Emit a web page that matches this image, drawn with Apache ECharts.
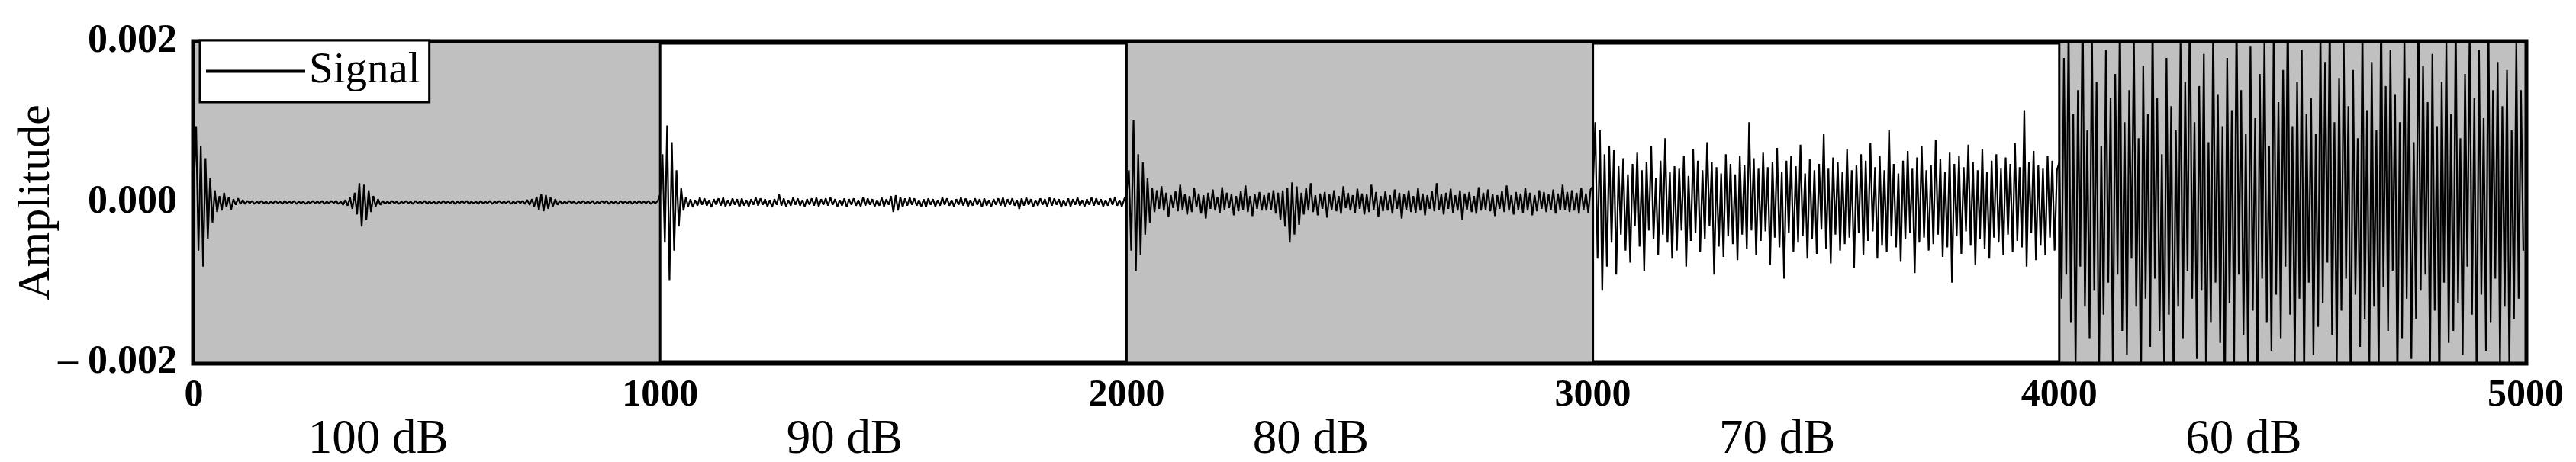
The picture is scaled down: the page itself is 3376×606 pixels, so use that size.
<!DOCTYPE html>
<html>
<head>
<meta charset="utf-8">
<script src="https://cdn.jsdelivr.net/npm/echarts@6/dist/echarts.min.js"></script>
<style>
  html, body { margin: 0; padding: 0; background: #fff; }
  #chart { width: 3376px; height: 606px; }
</style>
</head>
<body>
<div id="chart"></div>
<script>
// amplitude samples, units of 1e-5, every 5 samples inside each 1000-sample block
const seg100 = [
  20, 95, -60, 70, -80, 55, -45, 30, -25, 15, -12, 8,
  -10, 12, -6, 7, -9, 4, -3, 5, -2, 3, -2, 2,
  -1, 2, -2, 1, -1, 2, -1, 1, -2, 1, -1, 2,
  -1, 1, -2, 2, -1, 1, -1, 2, -2, 1, -1, 1,
  -2, 1, -1, 2, -1, 1, -1, 2, -2, 1, -1, 2,
  -1, 2, -2, 1, -3, 3, -4, 6,
  -8, 12, -15, 24, -30, 22, -22, 15, -12, 8, -5, 4,
  -3, 2, -2, 1, -1, 2, -1, 1, -2, 1, -1, 2,
  -1, 1, -2, 2, -1, 1, -1, 2, -2, 1, -1, 1,
  -2, 1, -1, 2, -1, 1, -1, 2, -2, 1, -1, 2,
  -1, 2, -2, 1, -1, 1, -2, 2, -1, 1, -1, 2,
  -2, 1, -1, 2, -1, 1, -1, 2, -2, 1, -1, 2,
  -1, 2, -2, 3, -3, 4, -5, 7, -9, 10, -11, 9,
  -8, 6, -5, 4, -3, 2, -2, 1, -1, 2, -1, 1,
  -2, 1, -1, 2, -1, 1, -1, 2, -2, 1, -1, 2,
  -1, 2, -2, 1, -1, 1, -2, 2, -1, 1, -1, 2,
  -2, 1, -1, 2, -1, 1, -1, 2, -2, 1, -1, 2
];
const seg90 = [
  10, 60, -50, 96, -97, 75, -60, 40, -30, 18, -10, 6,
  -5, 4, -6, 3, -4, 6, -3, 5, -4, 3, -6, 4,
  -3, 5, -4, 6, -5, 3, -4, 5, -3, 4, -6, 5,
  -4, 3, -5, 4, -3, 6, -4, 5, -3, 4, -5, 3,
  -6, 4, -3, 10, -4, 5, -5, 3, -4, 6, -3, 5,
  -4, 3, -5, 4, -3, 5, -4, 6, -5, 4, -3, 5,
  -4, 6, -3, 4, -5, 3, -4, 5, -6, 4, -3, 5,
  -4, 3, -5, 6, -4, 5, -3, 4, -5, 3, -4, 6,
  -5, 4, -3, 8, -12, 9, -10, 7, -6, 5, -4, 6,
  -3, 5, -4, 3, -5, 4, -6, 5, -3, 4, -5, 3,
  -4, 6, -3, 5, -4, 3, -5, 4, -3, 6, -4, 5,
  -5, 3, -4, 5, -3, 4, -6, 5, -4, 3, -5, 4,
  -3, 5, -4, 6, -5, 4, -3, 5, -4, 3, -8, 5,
  -4, 6, -3, 4, -5, 3, -4, 5, -3, 4, -5, 6,
  -4, 5, -3, 4, -6, 3, -4, 5, -5, 4, -3, 6,
  -4, 3, -5, 4, -3, 6, -4, 5, -3, 4, -5, 3,
  -4, 5, -3, 6, -4, 3, -5, 4
];
const seg80 = [
  10, 40, -60, 103, -86, 60, -65, 50, -40, 30, -25, 18,
  -12, 15, -8, 20, -10, 12, -18, 9, -7, 14, -11, 22,
  -9, 10, -15, 8, -12, 18, -6, 11, -14, 9, -20, 12,
  -8, 16, -10, 7, -13, 19, -9, 12, -7, 10, -16, 8,
  -11, 14, -9, 21, -12, 8, -17, 10, -8, 13, -10, 9,
  -10, 12, -9, 15, -14, 12, -22, 15, -30, 18, -50, 25,
  -40, 20, -28, 12, -15, 18, -10, 24, -12, 9, -16, 11,
  -8, 13, -19, 10, -9, 15, -11, 8, -14, 20, -7, 12,
  -10, 9, -13, 17, -8, 11, -15, 10, -12, 22, -9, 13,
  -18, 8, -11, 14, -10, 9, -14, 16, -8, 12, -20, 10,
  -9, 15, -12, 8, -13, 18, -10, 11, -16, 9, -8, 14,
  -11, 24, -9, 10, -15, 12, -8, 17, -13, 9, -10, 15,
  -22, 11, -9, 13, -12, 8, -14, 19, -10, 12, -9, 16,
  -11, 10, -17, 9, -8, 14, -12, 21, -10, 9, -15, 13,
  -9, 11, -13, 18, -10, 12, -16, 9, -11, 15, -8, 13,
  -12, 10, -9, 16, -14, 11, -10, 22, -9, 13, -12, 15,
  -10, 12, -14, 18, -9, 11, -13, 16
];
const seg70 = [
  20, 100, -70, 90, -110, 60, -80, 70, -50, 65, -90, 45,
  -40, 55, -60, 35, -75, 48, -30, 62, -55, 40, -85, 50,
  -35, 70, -45, 30, -65, 52, -40, 80, -50, 38, -70, 45,
  -60, 42, -35, 58, -80, 33, -48, 66, -38, 52, -62, 40,
  -45, 75, -30, 50, -90, 44, -55, 36, -68, 60, -42, 48,
  -52, 35, -72, 58, -40, 46, -58, 100, -35, 55, -65, 42,
  -48, 62, -36, 44, -78, 50, -44, 68, -56, 38, -95, 52,
  -38, 58, -62, 45, -50, 72, -42, 36, -70, 54, -46, 40,
  -64, 48, -34, 85, -58, 42, -76, 56, -40, 50, -60, 38,
  -52, 66, -44, 40, -82, 46, -38, 60, -66, 52, -48, 74,
  -36, 44, -70, 58, -54, 40, -62, 90, -42, 48, -56, 36,
  -74, 52, -46, 64, -38, 42, -88, 56, -50, 70, -44, 40,
  -60, 46, -52, 78, -40, 54, -68, 38, -56, 62, -100, 48,
  -42, 58, -64, 44, -36, 72, -54, 50, -78, 40, -46, 66,
  -58, 38, -70, 52, -44, 60, -50, 42, -66, 56, -40, 48,
  -62, 74, -48, 44, -56, 115, -80, 50, -38, 64, -72, 46,
  -54, 42, -66, 58, -44, 52, -60, 40
];
const seg60 = [
  50, -120, 180, -90, 230, -150, 110, -210, 140, -80, 260, -130,
  90, -170, 220, -110, 150, -240, 70, -140, 190, -100, 130, -220,
  160, -90, 250, -160, 100, -190, 140, -70, 210, -130, 80, -250,
  170, -120, 110, -180, 240, -95, 130, -160, 60, -210, 180, -140,
  120, -230, 90, -130, 200, -170, 150, -85, 270, -120, 100, -195,
  145, -110, 185, -240, 75, -150, 225, -100, 135, -175, 95, -260,
  180, -125, 115, -200, 250, -90, 140, -165, 85, -215, 195, -135,
  105, -245, 160, -95, 210, -150, 70, -185, 235, -115, 125, -170,
  165, -80, 255, -140, 95, -205, 150, -120, 190, -230, 110, -100,
  130, -190, 85, -155, 220, -125, 175, -75, 240, -165, 100, -210,
  155, -135, 200, -95, 120, -250, 165, -115, 80, -180, 230, -145,
  115, -200, 175, -130, 90, -225, 260, -105, 145, -160, 190, -85,
  135, -240, 100, -170, 215, -120, 155, -195, 75, -145, 245, -110,
  170, -90, 125, -215, 185, -135, 95, -255, 150, -100, 205, -175,
  110, -160, 235, -125, 80, -190, 160, -80, 220, -140, 130, -230,
  190, -115, 105, -185, 250, -150, 140, -95, 175, -205, 120, -130,
  165, -210, 90, -145, 200, -120, 140, -60
];

const segStarts = [0, 1000, 2000, 3000, 4000];
const bandLabels = ['100 dB', '90 dB', '80 dB', '70 dB', '60 dB'];
const shadedBands = [[0, 1000], [2000, 3000], [4000, 5000]];
const yTickValues = [-0.002, 0, 0.002];
const yTickLabels = ['\u2013 0.002', '0.000', '0.002'];

const font = 'Liberation Serif';
const segments = [seg100, seg90, seg80, seg70, seg60];

let signal = [];
segments.forEach((seg, k) => {
    const step = 1000 / seg.length;
    seg.forEach((v, i) => {
        signal.push([segStarts[k] + i * step, v * 1e-5]);
    });
});

const chart = echarts.init(document.getElementById('chart'));
chart.setOption({
    animation: false,
    grid: {
        left: 254,
        right: 66,
        top: 55,
        bottom: 130,
        outerBoundsMode: 'none',
        show: true,
        borderColor: '#000',
        borderWidth: 7,
        backgroundColor: 'transparent'
    },
    legend: {
        left: 262,
        top: 53,
        padding: [12, 12, 12, 8],
        backgroundColor: '#fff',
        borderColor: '#000',
        borderWidth: 3,
        borderRadius: 0,
        itemWidth: 130,
        itemHeight: 4,
        textStyle: { fontFamily: font, fontSize: 57, color: '#000' },
        data: [{ name: 'Signal', icon: 'rect', itemStyle: { color: '#000' } }]
    },
    xAxis: [
        {
            type: 'value',
            min: 0,
            max: 5000,
            interval: 1000,
            axisLine: { show: false },
            axisTick: { show: false },
            splitLine: { show: false },
            axisLabel: {
                fontFamily: font,
                fontSize: 50,
                fontWeight: 'bold',
                color: '#000',
                margin: 18,
                formatter: v => String(v)
            }
        },
        {
            type: 'category',
            data: bandLabels,
            position: 'bottom',
            axisLine: { show: false },
            axisTick: { show: false },
            splitLine: { show: false },
            axisLabel: {
                fontFamily: font,
                fontSize: 63,
                color: '#000',
                margin: 70,
                padding: [0, 128, 0, 0]
            }
        }
    ],
    yAxis: {
        type: 'value',
        min: -0.002,
        max: 0.002,
        interval: 0.001,
        name: 'Amplitude',
        nameLocation: 'middle',
        nameRotate: 90,
        nameGap: 176,
        nameMoveOverlap: false,
        nameTextStyle: { fontFamily: font, fontSize: 60, color: '#000' },
        axisLine: { show: false },
        axisTick: {
            show: true,
            inside: true,
            length: 12,
            lineStyle: { color: '#000', width: 3 }
        },
        splitLine: { show: false },
        axisLabel: {
            fontFamily: font,
            fontSize: 52,
            fontWeight: 'bold',
            color: '#000',
            margin: 22,
            formatter: function (v) {
                const i = yTickValues.findIndex(t => Math.abs(t - v) < 1e-9);
                return i >= 0 ? yTickLabels[i] : '';
            }
        }
    },
    series: [
        {
            name: 'Signal',
            type: 'line',
            xAxisIndex: 0,
            symbol: 'none',
            sampling: null,
            clip: true,
            lineStyle: { color: '#000', width: 2.2 },
            itemStyle: { color: '#000' },
            data: signal,
            markArea: {
                silent: true,
                itemStyle: {
                    color: '#c0c0c0',
                    borderColor: '#000',
                    borderWidth: 3
                },
                data: shadedBands.map(b => [{ xAxis: b[0] }, { xAxis: b[1] }])
            }
        }
    ]
});
</script>
</body>
</html>
